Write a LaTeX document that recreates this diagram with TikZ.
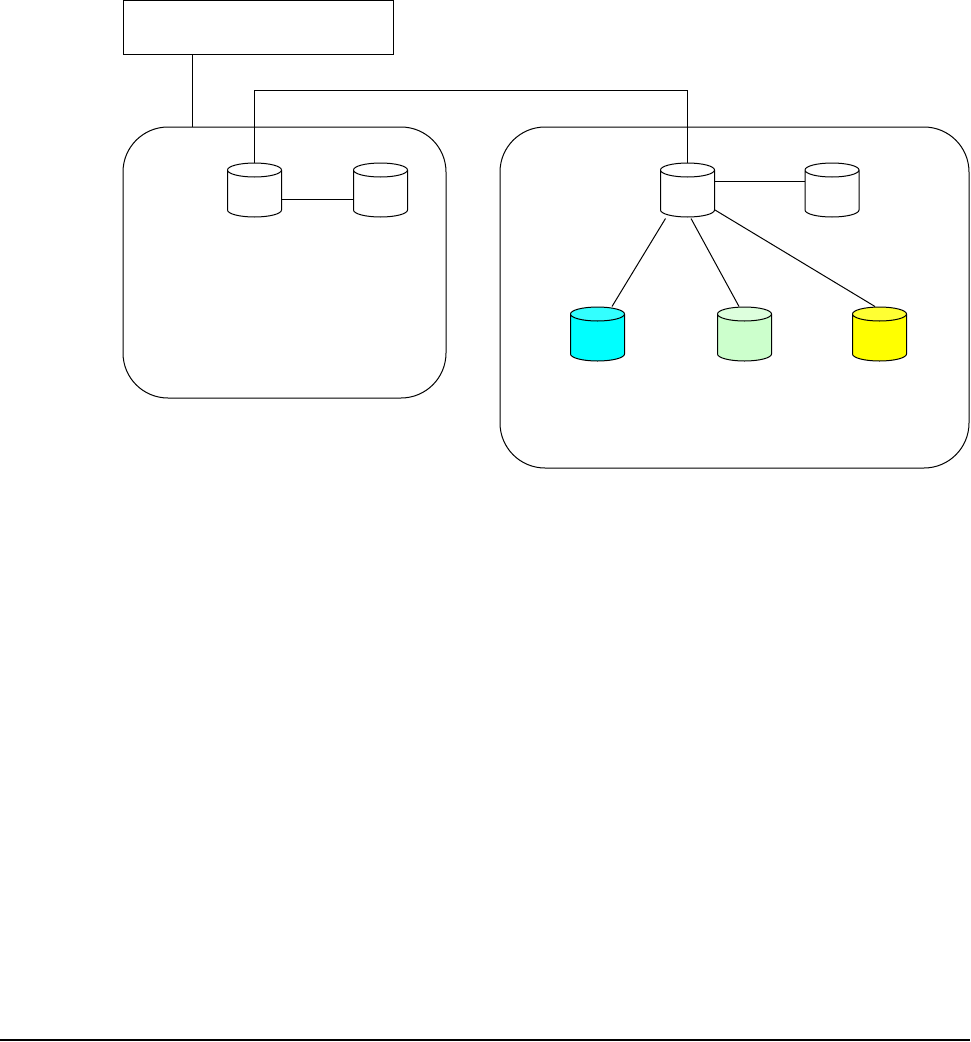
\documentclass[tikz,border=0pt]{standalone}
\usepackage{tikz}
\usetikzlibrary{shapes,shapes.geometric,positioning,calc}
\definecolor{dbcyan}{RGB}{0,255,255}
\definecolor{dbcyantop}{RGB}{51,255,255}
\definecolor{dbgreen}{RGB}{204,255,204}
\definecolor{dbgreentop}{RGB}{221,255,221}
\definecolor{dbyellow}{RGB}{255,255,0}
\definecolor{dbyellowtop}{RGB}{255,255,51}

\begin{document}
\begin{tikzpicture}[
    x=1pt, y=-1pt,
    line width=1pt,
    topbox/.style={rectangle, draw, minimum width=270pt, minimum height=54pt, inner sep=0pt},
    site/.style={rectangle, draw, rounded corners=45pt, inner sep=0pt},
    db/.style={cylinder, draw, shape border rotate=90, shape aspect=0.5, inner sep=14pt,
        anchor=shape center, minimum width=54pt, minimum height=54pt, cylinder uses custom fill,
        cylinder body fill=#1, cylinder end fill=#1top},
    db/.default=white,
    link/.style={line width=1pt}
]
    \useasboundingbox (0,0) rectangle (970,1042);
    \colorlet{whitetop}{white}

    % Top box and the two sites
    \node[topbox] (head) at (258,27) {};
    \node[site, minimum width=323pt, minimum height=271pt] (sitea) at (284.5,262.5) {};
    \node[site, minimum width=469pt, minimum height=341pt] (siteb) at (734.5,297.5) {};

    % Left site
    \node[db] (a1) at (254.5,190) {};
    \node[db] (a2) at (380.5,190) {};

    % Right site
    \node[db] (b1) at (687.5,190) {};
    \node[db] (b2) at (832,190) {};
    \node[db=dbcyan] (c1) at (597.5,334) {};
    \node[db=dbgreen] (c2) at (744.5,334) {};
    \node[db=dbyellow] (c3) at (879.5,334) {};

    \draw[link] ([xshift=-66pt]head.south) -- ([xshift=-92.5pt]sitea.north);
    \draw[link] (a1.north) -- ++(0,-72) coordinate (turn) -- (turn -| b1.north);
    \draw[link, line width=1.6pt] (turn -| b1.north) -- (b1.north);
    \draw[link] ([yshift=-9pt]a1.shape center -| a1.east) -- ([yshift=-9pt]a2.shape center -| a2.west);
    \draw[link] ([yshift=9pt]b1.shape center -| b1.east) -- ([yshift=9pt]b2.shape center -| b2.west);
    \draw[link] ([xshift=-22pt,yshift=-1pt]b1.south) -- ([xshift=14.5pt]c1.north);
    \draw[link] ([xshift=3.5pt,yshift=-1pt]b1.south) -- ([xshift=-5.5pt]c2.north);
    \draw[link] ([yshift=-20pt]b1.shape center -| b1.east) -- ([xshift=-4.5pt]c3.north);

    % Rule at the foot
    \coordinate (rulea) at (0,1040);
    \coordinate (ruleb) at (970,1040);
    \draw[line width=2.5pt] (rulea) -- (ruleb);
\end{tikzpicture}
\end{document}
